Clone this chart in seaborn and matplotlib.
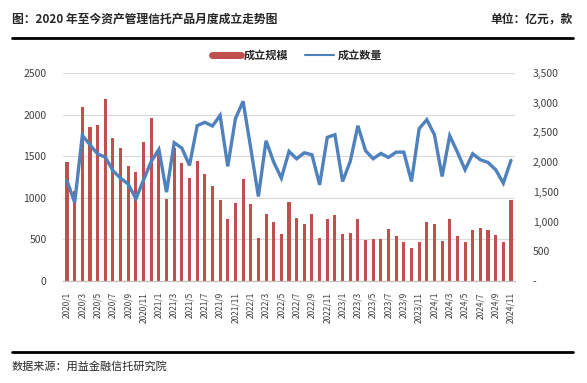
import numpy as np
import pandas as pd
import matplotlib
matplotlib.use("Agg")
import matplotlib.pyplot as plt
import seaborn as sns
from matplotlib.lines import Line2D
from matplotlib.ticker import FuncFormatter

# --- Data ---
months = [f"{y}/{m}" for y in range(2020, 2025) for m in range(1, 13)][:59]

# 成立规模 (亿元), left axis
scale = [1430, 1080, 2090, 1856, 1880, 2192, 1724, 1604, 1388, 1316,
         1676, 1956, 1590, 980, 1600, 1424, 1240, 1448, 1292, 1144,
         968, 740, 932, 1220, 920, 512, 808, 704, 568, 944,
         752, 688, 808, 512, 740, 788, 568, 580, 740, 488,
         500, 500, 620, 544, 472, 400, 472, 704, 688, 484,
         740, 544, 472, 616, 640, 616, 552, 472, 976]

# 成立数量 (款), right axis
count = [1686, 1320, 2450, 2293, 2136, 2085, 1855, 1731, 1630, 1382,
         1703, 2012, 2214, 1495, 2327, 2237, 1945, 2613, 2670, 2608,
         2787, 1928, 2731, 3024, 2237, 1422, 2360, 2001, 1731, 2181,
         2057, 2158, 2124, 1619, 2417, 2462, 1675, 2012, 2613, 2192,
         2057, 2147, 2079, 2169, 2169, 1675, 2563, 2714, 2462, 1759,
         2445, 2169, 1872, 2141, 2040, 1995, 1872, 1647, 2029]

df = pd.DataFrame({"month": months, "scale": scale, "count": count})

RED = "#C0504D"
BLUE = "#4F81BD"
TXT = "#404040"

sns.set_style("white")
plt.rcParams["font.family"] = ["Noto Sans CJK SC", "DejaVu Sans"]

fig = plt.figure(figsize=(5.87, 3.83), dpi=100)
ax = fig.add_axes([63.2 / 587, 1 - 281 / 383, 451.6 / 587, 208 / 383])

# --- Bars ---
sns.barplot(data=df, x="month", y="scale", color=RED, saturation=1,
            width=0.4, linewidth=0, ax=ax)

# --- Line on twin axis ---
ax2 = ax.twinx()
sns.lineplot(x=np.arange(len(df)), y=df["count"], ax=ax2, color=BLUE,
             linewidth=2.4, solid_joinstyle="miter")

ax.set_xlim(-0.5, len(df) - 0.5)
ax.set_ylim(0, 2500)
ax2.set_ylim(0, 3500)

ax.set_yticks(range(0, 2501, 500))
ax2.set_yticks(range(0, 3501, 500))
ax2.yaxis.set_major_formatter(FuncFormatter(lambda v, p: "-" if v == 0 else f"{int(v):,}"))

ax.set_xticks(range(0, len(df), 2))
ax.set_xticklabels(months[::2], rotation=90, fontsize=6, color=TXT)
ax.set_xticks(np.arange(-0.5, len(df), 2), minor=True)
ax.tick_params(axis="x", which="major", length=0, pad=8)
ax.tick_params(axis="x", which="minor", length=3, color="#bfbfbf", width=0.8)
ax.tick_params(axis="y", length=0, pad=12, labelsize=7.5, labelcolor=TXT)
ax2.tick_params(axis="y", length=0, pad=13, labelsize=7.5, labelcolor=TXT)

ax.set_xlabel("")
ax.set_ylabel("")
ax2.set_ylabel("")
ax.grid(axis="y", color="#d9d9d9", linewidth=0.8)
ax.set_axisbelow(True)

for a in (ax, ax2):
    for s in ("top", "left", "right"):
        a.spines[s].set_visible(False)
    a.spines["bottom"].set_color("#bfbfbf")
    a.spines["bottom"].set_linewidth(0.8)

# --- Legend ---
handles = [Line2D([], [], color=RED, linewidth=5),
           Line2D([], [], color=BLUE, linewidth=1.5)]
fig.legend(handles, ["成立规模", "成立数量"], loc="center",
           bbox_to_anchor=(297 / 587, 1 - 55 / 383), ncol=2, frameon=False,
           prop={"size": 8, "weight": "bold"}, handlelength=2.6,
           handletextpad=0.3, columnspacing=1.5)

# --- Header / footer ---
fig.text(12 / 587, 1 - 19 / 383, "图：2020 年至今资产管理信托产品月度成立走势图",
         fontsize=8.5, fontweight="bold", va="center", ha="left")
fig.text(573 / 587, 1 - 19 / 383, "单位：亿元，款",
         fontsize=8.5, fontweight="bold", va="center", ha="right")
fig.add_artist(Line2D([12 / 587, 573 / 587], [1 - 38 / 383] * 2,
                      color="black", linewidth=2))
fig.add_artist(Line2D([12 / 587, 573 / 587], [1 - 352 / 383] * 2,
                      color="black", linewidth=2))
fig.text(12 / 587, 1 - 366 / 383, "数据来源：用益金融信托研究院",
         fontsize=8, va="center", ha="left")

fig.savefig("out.png", dpi=100)
